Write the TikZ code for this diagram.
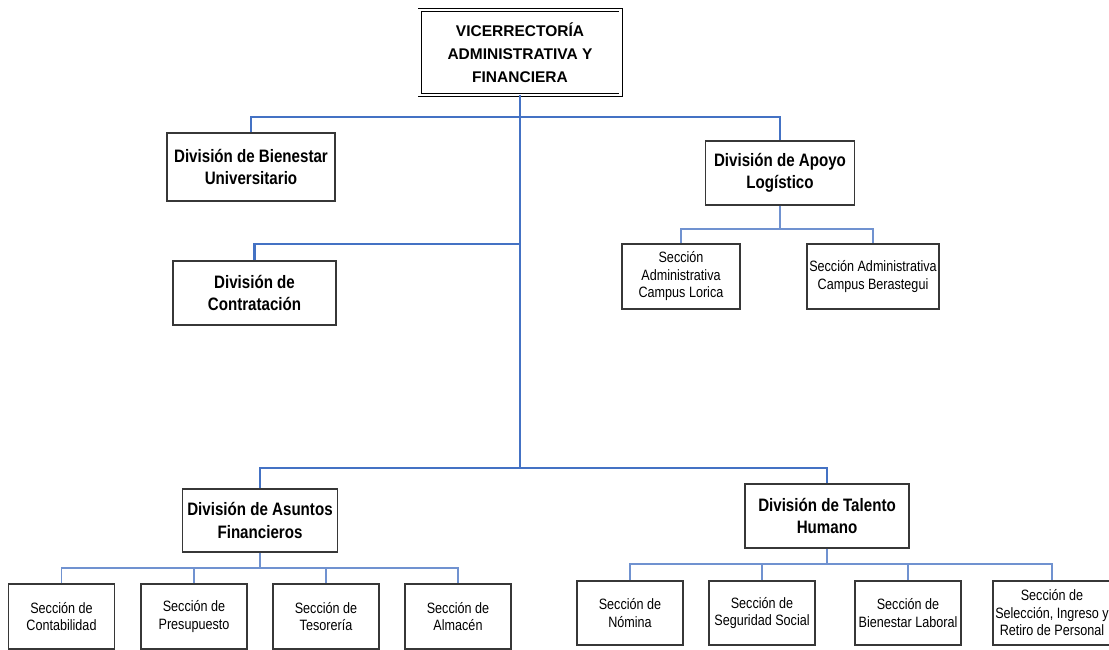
\documentclass[tikz,border=0pt]{standalone}
\usepackage{fontspec}
\setmainfont{Liberation Sans}
\newfontfamily\narrowfont{Liberation Sans}[FakeStretch=0.84]
\newcommand\mytopfont{\bfseries\fontsize{15.5}{23}\selectfont}
\newcommand\mydivfont{\narrowfont\bfseries\fontsize{18}{22.5}\selectfont}
\newcommand\mysecfont{\narrowfont\fontsize{15}{17.5}\selectfont}
\definecolor{boxc}{RGB}{55,55,55}
\definecolor{linec}{RGB}{68,114,196}
\definecolor{subc}{RGB}{112,146,208}
\tikzset{
  orgbox/.style={draw=boxc, line width=1.3pt, fill=white, inner sep=0pt, align=center},
  topbox/.style={draw=black, line width=0.9pt, double=white, double distance=2.2pt, fill=white, inner sep=0pt, align=center, font=\mytopfont},
  divbox/.style={orgbox, font=\mydivfont},
  secbox/.style={orgbox, font=\mysecfont},
  mainline/.style={draw=linec, line width=2.6pt},
  subline/.style={draw=subc, line width=1.6pt},
}
\begin{document}
\begin{tikzpicture}[x=1pt,y=-1pt]
\useasboundingbox (0,0) rectangle (1109,650);
\fill[white] (0,0) rectangle (1109,650);
% junctions
\coordinate (j1) at (520,117);
\coordinate (j2) at (520,244);
\coordinate (j3) at (520,468);
\coordinate (ja) at (780,229);
\coordinate (jb) at (260,568);
\coordinate (jt) at (827,564);
% nodes
\node[topbox, minimum width=201pt, minimum height=85pt] (top) at (520,52.5) {VICERRECTORÍA\\ADMINISTRATIVA Y\\FINANCIERA};
\node[divbox, minimum width=168pt, minimum height=68pt] (bien) at (251,167) {División de Bienestar\\Universitario};
\node[divbox, minimum width=149pt, minimum height=64pt] (apoyo) at (780,173) {División de Apoyo\\Logístico};
\node[divbox, minimum width=163pt, minimum height=64pt] (contr) at (254.5,293) {División de\\Contratación};
\node[secbox, minimum width=118pt, minimum height=65pt] (lorica) at (681,276.5) {Sección\\Administrativa\\Campus Lorica};
\node[secbox, minimum width=132pt, minimum height=65pt] (beras) at (873,276.5) {Sección Administrativa\\Campus Berastegui};
\node[divbox, minimum width=155pt, minimum height=63pt] (asuntos) at (260,520.5) {División de Asuntos\\Financieros};
\node[divbox, minimum width=164pt, minimum height=64pt] (talento) at (827,516) {División de Talento\\Humano};
\node[secbox, minimum width=106pt, minimum height=65pt] (c1) at (61.5,616.5) {Sección de\\Contabilidad};
\node[secbox, minimum width=106pt, minimum height=65pt] (c2) at (194,616.5) {Sección de\\Presupuesto};
\node[secbox, minimum width=106pt, minimum height=65pt] (c3) at (326,616.5) {Sección de\\Tesorería};
\node[secbox, minimum width=106pt, minimum height=65pt] (c4) at (458,616.5) {Sección de\\Almacén};
\node[secbox, minimum width=106pt, minimum height=64pt] (t1) at (630,613) {Sección de\\Nómina};
\node[secbox, minimum width=106pt, minimum height=64pt] (t2) at (762,613) {Sección de\\Seguridad Social};
\node[secbox, minimum width=106pt, minimum height=64pt] (t3) at (908,613) {Sección de\\Bienestar Laboral};
\node[secbox, minimum width=118pt, minimum height=64pt] (t4) at (1052,613) {Sección de\\Selección, Ingreso y\\Retiro de Personal};
% main connectors
\draw[mainline] (top.south) -- (j3);
\draw[mainline] (bien.north) |- (j1) -| (apoyo.north);
\draw[mainline] (j2) -| (contr.north);
\draw[mainline] (asuntos.north) |- (j3) -| (talento.north);
% sub connectors
\draw[subline] (apoyo.south) -- (ja);
\draw[subline] (lorica.north) |- (ja) -| (beras.north);
\draw[subline] (asuntos.south) -- (jb);
\draw[subline] (c1.north) |- (jb);
\draw[subline] (c2.north) |- (jb);
\draw[subline] (jb) -| (c3.north);
\draw[subline] (jb) -| (c4.north);
\draw[subline] (talento.south) -- (jt);
\draw[subline] (t1.north) |- (jt);
\draw[subline] (t2.north) |- (jt);
\draw[subline] (jt) -| (t3.north);
\draw[subline] (jt) -| (t4.north);
\end{tikzpicture}
\end{document}
